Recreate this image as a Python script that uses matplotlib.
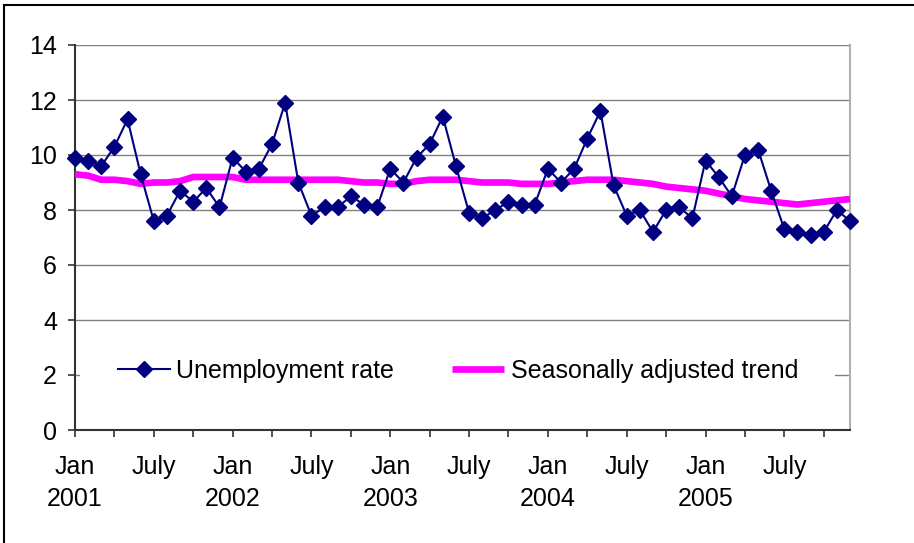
import matplotlib
matplotlib.use("Agg")
from matplotlib import pyplot as plt
from matplotlib.patches import Rectangle
import numpy as np

plt.rcParams['font.family'] = ['Liberation Sans', 'DejaVu Sans']

# monthly data, Jan 2001 .. Dec 2005
unemployment = [9.9, 9.8, 9.6, 10.3, 11.3, 9.3, 7.6, 7.8, 8.7, 8.3, 8.8, 8.1,
                9.9, 9.4, 9.5, 10.4, 11.9, 9.0, 7.8, 8.1, 8.1, 8.5, 8.2, 8.1,
                9.5, 9.0, 9.9, 10.4, 11.4, 9.6, 7.9, 7.7, 8.0, 8.3, 8.2, 8.2,
                9.5, 9.0, 9.5, 10.6, 11.6, 8.9, 7.8, 8.0, 7.2, 8.0, 8.1, 7.7,
                9.8, 9.2, 8.5, 10.0, 10.2, 8.7, 7.3, 7.2, 7.1, 7.2, 8.0, 7.6]
trend = [9.3, 9.25, 9.1, 9.1, 9.05, 8.95, 9.0, 9.0, 9.05, 9.2, 9.2, 9.2,
         9.2, 9.1, 9.1, 9.1, 9.1, 9.1, 9.1, 9.1, 9.1, 9.05, 9.0, 9.0,
         8.95, 8.95, 9.05, 9.1, 9.1, 9.1, 9.05, 9.0, 9.0, 9.0, 8.95, 8.95,
         8.95, 9.0, 9.05, 9.1, 9.1, 9.1, 9.05, 9.0, 8.95, 8.85, 8.8, 8.75,
         8.7, 8.6, 8.5, 8.4, 8.35, 8.3, 8.25, 8.2, 8.25, 8.3, 8.35, 8.4]
years = ["2001", "2002", "2003", "2004", "2005"]

months = np.arange(len(unemployment))

fig = plt.figure(figsize=(9.14, 5.43), dpi=100)
ax = fig.add_axes([75/914, 113/543, 775/914, 385/543])

ax.plot(months, unemployment, color="#000080", lw=1.5, marker="D", ms=8.5,
        label="Unemployment rate", clip_on=False, zorder=4)
ax.plot(months, trend, color="#FF00FF", lw=4.8, label="Seasonally adjusted trend",
        solid_capstyle="butt", zorder=3)

ax.set_xlim(0, 59)
ax.set_ylim(0, 14)
ax.set_yticks(range(0, 15, 2))
ax.grid(axis="y", color="#808080", lw=1)
ax.set_axisbelow(True)

# ticks every 3 months, labels on Jan and July
tick_pos = np.arange(0, 60, 3)
labels = []
for m in tick_pos:
    if m % 12 == 0:
        labels.append("Jan\n" + years[m // 12])
    elif m % 12 == 6:
        labels.append("July")
    else:
        labels.append("")
ax.set_xticks(tick_pos)
ax.set_xticklabels(labels, va="top", linespacing=1.4)
ax.tick_params(axis="both", direction="out", length=5, width=1.2,
               color="#333333", labelsize=18)
ax.tick_params(axis="x", pad=13)
ax.tick_params(axis="y", pad=8)

for s in ["left", "bottom"]:
    ax.spines[s].set_color("#333333")
    ax.spines[s].set_linewidth(1.5)
ax.spines["top"].set_visible(False)
ax.spines["right"].set_color("#b0b0b0")
ax.spines["right"].set_linewidth(1.5)

leg = ax.legend(loc="center", bbox_to_anchor=(0.494, 0.153), ncol=2,
                fontsize=18, frameon=True, facecolor="white", edgecolor="none",
                framealpha=1, borderpad=1.5, handlelength=2.1,
                handletextpad=0.25, columnspacing=2.3, fancybox=False)
leg.set_zorder(5)

# outer chart border (cropped at right and bottom)
fig.patches.append(Rectangle((4/914, -0.1), 1.2, 1.1 - 5/543,
                             transform=fig.transFigure, fill=False,
                             edgecolor="black", lw=1.5))

fig.savefig("out.png", dpi=100)
